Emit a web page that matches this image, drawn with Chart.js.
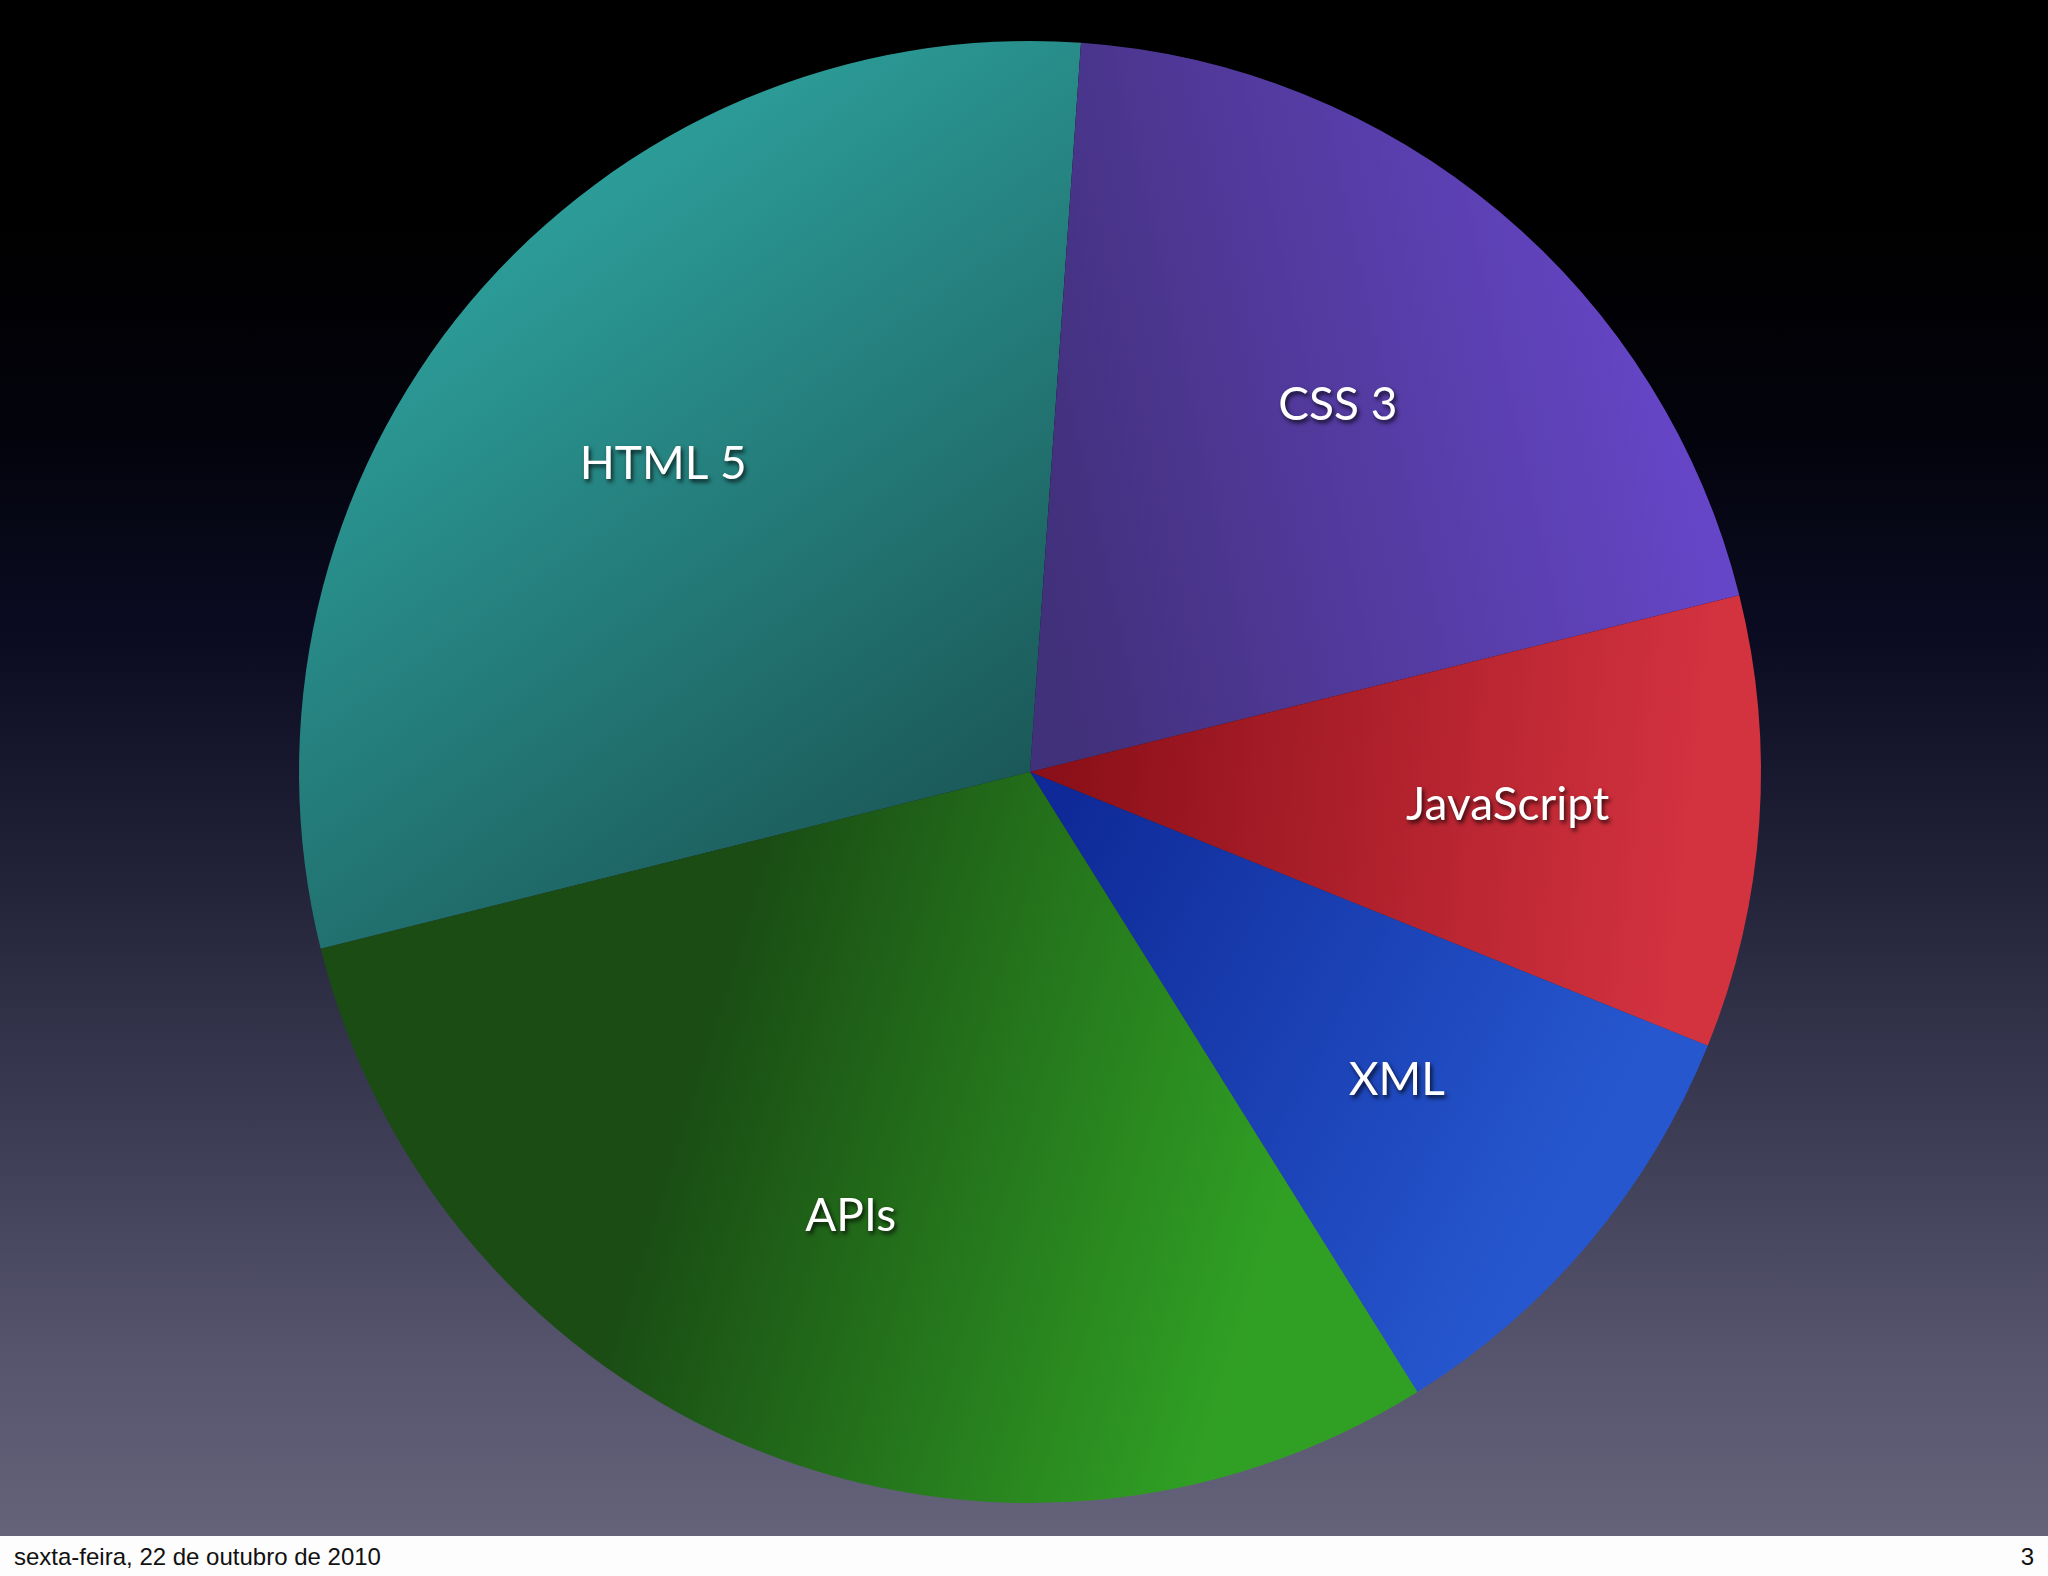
<!DOCTYPE html>
<html>
<head>
<meta charset="utf-8">
<script src="https://cdn.jsdelivr.net/npm/chart.js@4/dist/chart.umd.min.js"></script>
<style>
  html, body { margin: 0; padding: 0; width: 2048px; height: 1576px; overflow: hidden; background: #fff; }
  #stage { position: absolute; left: 0; top: 0; width: 2048px; height: 1536px;
    background: linear-gradient(to bottom, #000 0px, #000 220px, #03030c 430px, #0b0c22 640px, #222339 880px, #3d3c55 1130px, #56546d 1350px, #65637a 1536px); }
  #topcut { position: absolute; left: 0; top: 0; width: 2048px; height: 40px; background: #000; }
  #footer { position: absolute; left: 0; top: 1536px; width: 2048px; height: 40px; background: #fdfdfd;
    font-family: "Liberation Sans", Arial, sans-serif; font-size: 24px; color: #111; }
  #footer .l { position: absolute; left: 14px; top: 7px; }
  #footer .r { position: absolute; right: 14px; top: 7px; }
  canvas { position: absolute; left: 0; top: 0; }
</style>
</head>
<body>
<div id="stage"><canvas id="c" width="2048" height="1536"></canvas></div>
<div id="topcut"></div>
<div id="footer"><span class="l">sexta-feira, 22 de outubro de 2010</span><span class="r">3</span></div>
<script>
// ---- data ----
const categories = ['HTML 5', 'CSS 3', 'JavaScript', 'XML', 'APIs'];
const shares = [30, 20, 10, 10, 30];

// ---- styles (separate from data) ----
const gradDirs = [
  [-0.6, -0.8, 0.0, 0.05],
  [0.05, -0.1, 0.95, -0.3],
  [0.05, 0.0, 0.9, 0.1],
  [0.05, 0.05, 0.8, 0.45],
  [-0.45, 0.35, 0.35, 0.6]
];
const gradColors = [
  ['#2c9c98', '#1a5656'],
  ['#41307a', '#6646c8'],
  ['#8c1019', '#d3323f'],
  ['#0f2a98', '#2657cf'],
  ['#1a4c14', '#30a024']
];

function sliceFill(ctx) {
  const chart = ctx.chart;
  const area = chart.chartArea;
  const i = ctx.dataIndex;
  if (!area) return gradColors[i][1];
  const cx = (area.left + area.right) / 2;
  const cy = (area.top + area.bottom) / 2;
  const r = Math.min(area.right - area.left, area.bottom - area.top) / 2;
  const d = gradDirs[i];
  const g = chart.ctx.createLinearGradient(cx + d[0] * r, cy + d[1] * r, cx + d[2] * r, cy + d[3] * r);
  g.addColorStop(0, gradColors[i][0]);
  g.addColorStop(1, gradColors[i][1]);
  return g;
}

const sliceLabels = {
  id: 'sliceLabels',
  afterDatasetsDraw(chart) {
    const c = chart.ctx;
    const meta = chart.getDatasetMeta(0);
    c.save();
    c.font = '46px Lato, "Open Sans", sans-serif';
    c.textAlign = 'center';
    c.textBaseline = 'middle';
    c.fillStyle = '#ffffff';
    c.shadowColor = 'rgba(0,0,0,0.75)';
    c.shadowOffsetX = 2;
    c.shadowOffsetY = 3;
    c.shadowBlur = 4;
    meta.data.forEach((arc, i) => {
      const p = arc.getProps(['x', 'y', 'startAngle', 'endAngle', 'outerRadius'], true);
      const mid = (p.startAngle + p.endAngle) / 2;
      const rr = p.outerRadius * 0.655;
      c.fillText(chart.data.labels[i], p.x + Math.cos(mid) * rr, p.y + Math.sin(mid) * rr);
    });
    c.restore();
  }
};

new Chart(document.getElementById('c'), {
  type: 'pie',
  data: {
    labels: categories,
    datasets: [{
      data: shares,
      backgroundColor: sliceFill,
      borderWidth: 0,
      hoverOffset: 0
    }]
  },
  options: {
    responsive: false,
    animation: false,
    rotation: 256,
    layout: { padding: { left: 299, right: 287, top: 41, bottom: 33 } },
    plugins: { legend: { display: false }, tooltip: { enabled: false } }
  },
  plugins: [sliceLabels]
});
</script>
</body>
</html>
